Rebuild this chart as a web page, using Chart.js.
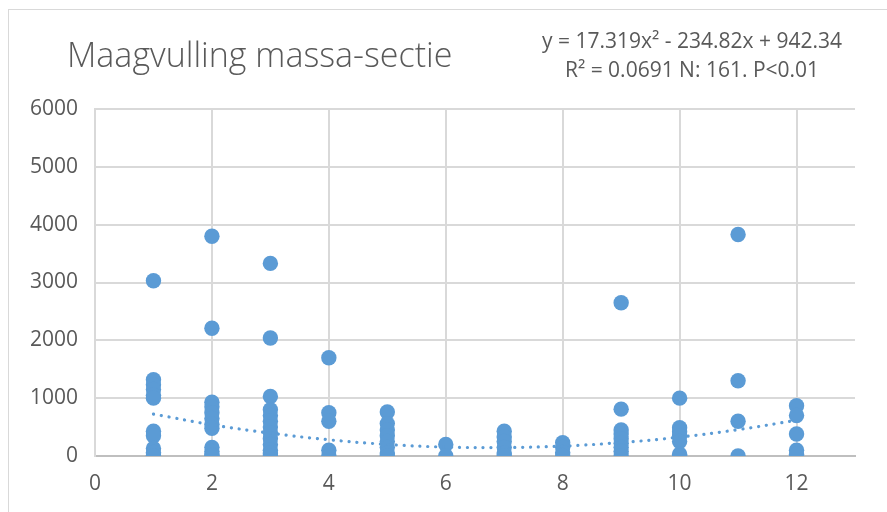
<!DOCTYPE html>
<html>
<head>
<meta charset="utf-8">
<script src="https://cdn.jsdelivr.net/npm/chart.js@4"></script>
<style>
  html, body { margin: 0; padding: 0; background: #fff; overflow: hidden; }
  #frame { position: absolute; left: 8px; top: 9px; width: 900px; height: 520px; border: 1px solid #d9d9d9; }
  #wrap { position: absolute; left: 0; top: 0; width: 887px; height: 512px; }
</style>
</head>
<body>
<div id="frame"></div>
<div id="wrap"><canvas id="chart" width="887" height="512"></canvas></div>
<script>
// x = sectie (1..12), y = maagvulling per sectie
const secties = [1, 2, 3, 4, 5, 6, 7, 8, 9, 10, 11, 12];
const massa = [
  [3030, 1320, 1230, 1150, 1050, 1000, 430, 350, 130, 60, 0, 0],
  [3800, 2210, 930, 850, 750, 650, 550, 480, 150, 80, 20, 0],
  [3330, 2040, 1030, 800, 700, 600, 500, 400, 300, 200, 100, 50, 0],
  [1700, 750, 600, 100, 0],
  [760, 560, 450, 350, 250, 150, 50, 0],
  [200, 0],
  [430, 330, 250, 150, 50, 0],
  [230, 150, 60, 0],
  [2650, 810, 450, 380, 300, 220, 150, 80, 0],
  [1000, 490, 420, 350, 250, 30, 0],
  [3830, 1300, 600, 0],
  [870, 700, 380, 100, 30]
];
// dotted polynomial trendline, values read at each sectie
const trend = [725, 540, 395, 280, 200, 155, 147, 172, 232, 326, 455, 618];

const titel = 'Maagvulling massa-sectie';
const vergelijking = ['y = 17.319x\u00B2 - 234.82x + 942.34', 'R\u00B2 = 0.0691 N: 161. P<0.01'];

const blauw = '#5B9BD5';
const tekst = '#595959';
const grid = '#D9D9D9';
const font = '"Open Sans", sans-serif';

const punten = [];
secties.forEach((s, i) => massa[i].forEach(v => punten.push({ x: s, y: v })));

const tekstPlugin = {
  id: 'tekst',
  afterDraw(chart) {
    const ctx = chart.ctx;
    ctx.save();
    ctx.fillStyle = tekst;
    ctx.textBaseline = 'middle';
    ctx.textAlign = 'left';
    ctx.font = '300 34px ' + font;
    ctx.fillText(titel, 67, 57);
    ctx.textAlign = 'center';
    ctx.font = '21px ' + font;
    ctx.fillText(vergelijking[0], 692, 42);
    ctx.fillText(vergelijking[1], 692, 71);
    ctx.restore();
  }
};

new Chart(document.getElementById('chart'), {
  type: 'scatter',
  data: {
    datasets: [
      {
        label: 'trend',
        data: secties.map((s, i) => ({ x: s, y: trend[i] })),
        showLine: true,
        tension: 0.4,
        borderColor: blauw,
        borderWidth: 3.2,
        borderDash: [0.1, 7.8],
        borderCapStyle: 'round',
        pointRadius: 0,
        fill: false,
        order: 0
      },
      {
        label: 'massa',
        data: punten,
        backgroundColor: blauw,
        borderColor: blauw,
        borderWidth: 0,
        pointRadius: 7.7,
        pointHoverRadius: 7.7,
        order: 1
      }
    ]
  },
  options: {
    responsive: false,
    animation: false,
    layout: { padding: { top: 109, right: 32, bottom: 0, left: 0 } },
    plugins: {
      legend: { display: false },
      tooltip: { enabled: false },
      title: { display: false }
    },
    scales: {
      x: {
        type: 'linear',
        min: 0,
        max: 13,
        ticks: { stepSize: 2, includeBounds: false, color: tekst, font: { family: font, size: 21 }, padding: 15 },
        grid: { color: grid, lineWidth: 2, drawTicks: false },
        border: { color: '#BFBFBF', width: 2 },
        afterFit(scale) { scale.height = 56; }
      },
      y: {
        min: 0,
        max: 6000,
        ticks: { stepSize: 1000, color: tekst, font: { family: font, size: 21 }, padding: 17, callback: v => String(v) },
        grid: { color: grid, lineWidth: 2, drawTicks: false },
        border: { color: grid, width: 2 },
        afterFit(scale) { scale.width = 95; }
      }
    }
  },
  plugins: [tekstPlugin]
});
</script>
</body>
</html>
